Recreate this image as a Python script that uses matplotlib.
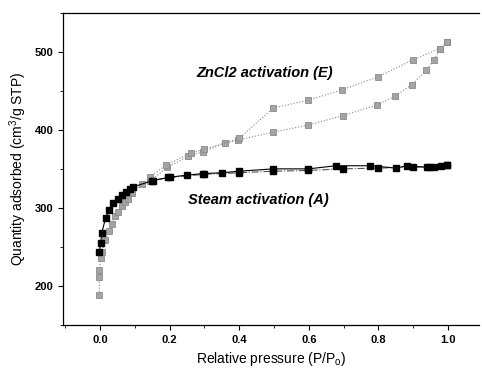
import matplotlib
matplotlib.use("Agg")
import matplotlib.pyplot as plt
from matplotlib.ticker import MultipleLocator

plt.rcParams['font.family'] = ['Liberation Sans', 'DejaVu Sans']

# Steam activated carbon (A): adsorption and desorption branches
steam_ads_p = [-0.002, 0.002, 0.005, 0.016, 0.027, 0.038, 0.051, 0.062, 0.074, 0.086, 0.096,
               0.151, 0.196, 0.249, 0.297, 0.35, 0.40, 0.498, 0.599, 0.678, 0.776, 0.851,
               0.881, 0.939, 0.96, 0.98, 0.997]
steam_ads_q = [244, 255, 268, 287, 297, 306, 312, 317, 321, 324, 327,
               335, 339, 342, 344, 345, 347, 350, 350, 354, 354, 351,
               354, 352, 353, 354, 355]
steam_des_p = [0.997, 0.945, 0.90, 0.80, 0.697, 0.599, 0.498, 0.40, 0.30, 0.20, 0.15]
steam_des_q = [355, 353, 352, 351, 350, 348, 347, 345, 343, 339, 335]

# ZnCl2 activated carbon (E)
zn_ads_p = [-0.002, -0.002, -0.002, 0.002, 0.007, 0.014, 0.026, 0.034, 0.043, 0.053, 0.062,
            0.072, 0.081, 0.091, 0.12, 0.144, 0.192, 0.254, 0.297, 0.359, 0.397,
            0.498, 0.597, 0.697, 0.797, 0.848, 0.896, 0.937, 0.96, 0.977, 0.996]
zn_ads_q = [189, 212, 221, 236, 244, 259, 270, 280, 289, 295, 302,
            308, 312, 319, 330, 334, 352, 366, 372, 383, 387,
            397, 406, 418, 432, 443, 458, 476, 490, 504, 512]
zn_des_p = [0.996, 0.977, 0.90, 0.80, 0.694, 0.599, 0.498, 0.40, 0.30, 0.26, 0.19, 0.144]
zn_des_q = [512, 504, 490, 468, 451, 438, 428, 389, 375, 370, 355, 340]

fig = plt.figure(figsize=(4.82, 3.74), dpi=100)
ax = fig.add_axes([0.1317, 0.131, 0.8628, 0.835])

grey = '#a4a4a4'
ax.plot(zn_ads_p, zn_ads_q, ls=':', lw=0.8, color='#888888', marker='s', ms=4.6,
        mfc=grey, mec='#8a8a8a', mew=0.6)
ax.plot(zn_des_p, zn_des_q, ls=':', lw=0.8, color='#888888', marker='s', ms=4.6,
        mfc=grey, mec='#8a8a8a', mew=0.6)
ax.plot(steam_des_p, steam_des_q, ls='-.', lw=0.8, color='#555555', marker='s', ms=5,
        mfc='black', mec='black')
ax.plot(steam_ads_p, steam_ads_q, ls='-', lw=0.8, color='black', marker='s', ms=5,
        mfc='black', mec='black')

ax.text(0.474, 473, 'ZnCl2 activation (E)', fontsize=10.5, fontweight='bold',
        fontstyle='italic', ha='center', va='center')
ax.text(0.454, 310, 'Steam activation (A)', fontsize=10.5, fontweight='bold',
        fontstyle='italic', ha='center', va='center')

ax.set_xlim(-0.105, 1.09)
ax.set_ylim(150, 550)
ax.xaxis.set_major_locator(MultipleLocator(0.2))
ax.xaxis.set_minor_locator(MultipleLocator(0.1))
ax.yaxis.set_major_locator(MultipleLocator(100))
ax.yaxis.set_minor_locator(MultipleLocator(50))
ax.tick_params(which='both', direction='out', labelsize=8)
ax.tick_params(which='major', length=3.5, width=0.8)
ax.tick_params(which='minor', length=2, width=0.6)
for lab in ax.get_xticklabels() + ax.get_yticklabels():
    lab.set_fontweight('bold')
ax.spines['right'].set_visible(False)
for s in ['left', 'bottom', 'top']:
    ax.spines[s].set_linewidth(0.9)

ax.set_xlabel('Relative pressure (P/P$_\\mathregular{o}$)', fontsize=10)
ax.set_ylabel('Quantity adsorbed (cm$^\\mathregular{3}$/g STP)', fontsize=10)

fig.savefig('out.png', dpi=100)
